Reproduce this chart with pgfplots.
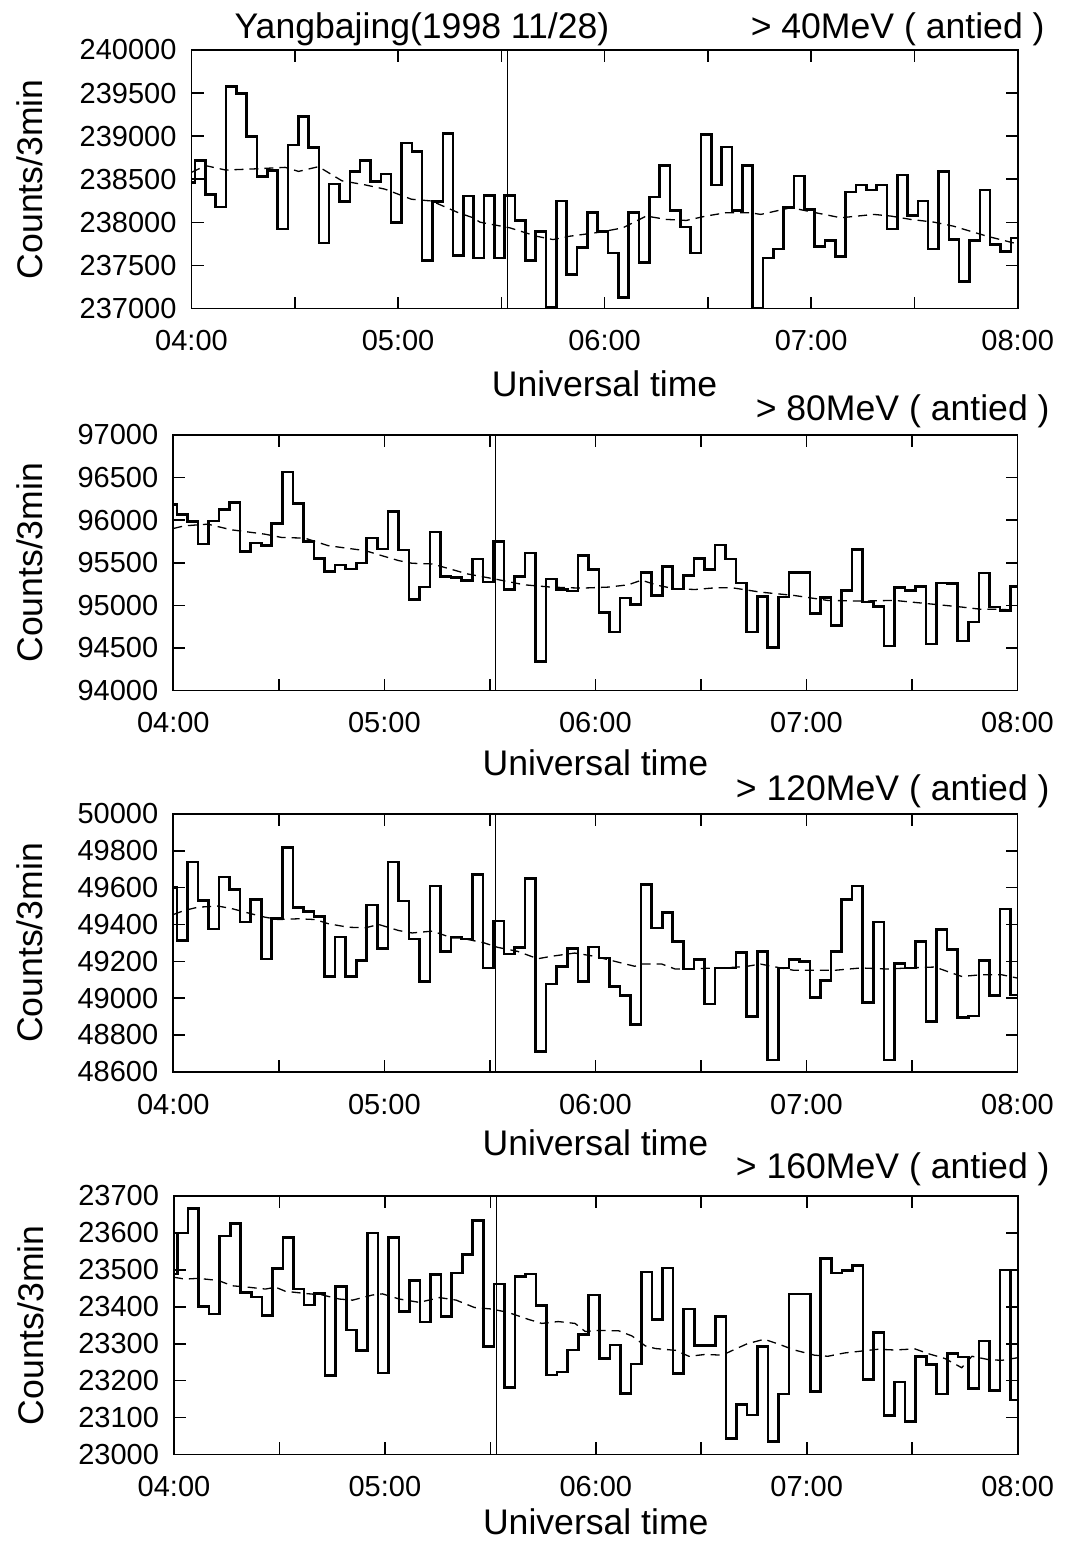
\documentclass[border=0pt]{standalone}
\usepackage{fontspec}
\setmainfont{Liberation Sans}
\usepackage{pgfplots}
\usepackage{pgfplotstable}
\pgfplotsset{compat=1.18}

% 3-minute counts (bin start in minutes after 04:00 UT, counts)
\pgfplotstableread{
t v
0 238460
1 238716
4 238326
7 238178
10 239574
13 239496
16 238997
19 238529
22 238599
25 237924
28 238899
31 239231
34 238868
37 237760
40 238443
43 238240
46 238591
49 238716
52 238474
55 238560
58 237995
61 238919
64 238825
67 237558
70 238240
73 239028
76 237612
79 238307
82 237585
85 238314
88 237585
91 238314
94 238022
97 237558
100 237897
103 237012
106 238248
109 237398
112 237710
115 238112
118 237897
121 237644
124 237125
127 238112
130 237534
133 238295
136 238658
139 238139
142 237944
145 237644
148 239020
151 238435
154 238872
157 238139
160 238658
163 237000
166 237585
169 237690
172 238170
175 238540
178 238150
181 237721
184 237788
187 237604
190 238353
193 238431
196 238373
199 238431
202 237924
205 238548
208 238080
211 238248
214 237690
217 238591
220 237800
223 237312
226 237788
229 238377
232 237741
235 237663
238 237819
240 237819
}\histA

\pgfplotstableread{
t v
0 96186
1 96069
4 95984
7 95719
10 95992
13 96128
16 96206
19 95630
22 95731
25 95700
28 95961
31 96564
34 96194
37 95751
40 95552
43 95397
46 95474
49 95428
52 95498
55 95789
58 95661
61 96101
64 95649
67 95070
70 95214
73 95863
76 95338
79 95330
82 95291
85 95544
88 95272
91 95751
94 95183
97 95338
100 95614
103 94338
106 95311
109 95183
112 95167
115 95583
118 95420
121 94914
124 94689
127 95085
130 95008
133 95389
136 95116
139 95455
142 95194
145 95350
148 95552
151 95420
154 95708
157 95544
160 95264
163 94689
166 95105
169 94502
172 95097
175 95389
178 95389
181 94902
184 95089
187 94766
190 95175
193 95653
196 95039
199 94988
202 94521
205 95206
208 95175
211 95221
214 94545
217 95264
220 95253
223 94580
226 94805
229 95381
232 94980
235 94941
238 95221
240 95221
}\histB

\pgfplotstableread{
t v
0 49600
1 49313
4 49740
7 49531
10 49376
13 49658
16 49591
19 49413
22 49536
25 49213
28 49431
31 49818
34 49491
37 49469
40 49445
43 49118
46 49333
49 49118
52 49205
55 49505
58 49269
61 49740
64 49527
67 49322
70 49091
73 49609
76 49254
79 49333
82 49322
85 49673
88 49164
91 49418
94 49240
97 49276
100 49651
103 48709
106 49076
109 49173
112 49269
115 49091
118 49278
121 49218
124 49064
127 49015
130 48858
133 49618
136 49382
139 49464
142 49309
145 49158
148 49209
151 48969
154 49164
157 49164
160 49249
163 48900
166 49254
169 48664
172 49164
175 49209
178 49200
181 49005
184 49096
187 49254
190 49536
193 49609
196 48978
199 49414
202 48664
205 49187
208 49164
211 49309
214 48873
217 49373
220 49264
223 48896
226 48904
229 49205
232 49015
235 49485
238 49018
240 49018
}\histC

\pgfplotstableread{
t v
0 23489
1 23600
4 23666
7 23400
10 23380
13 23592
16 23625
19 23439
22 23427
25 23377
28 23503
31 23587
34 23448
37 23405
40 23436
43 23214
46 23455
49 23337
52 23282
55 23600
58 23221
61 23587
64 23387
67 23471
70 23359
73 23487
76 23374
79 23491
82 23541
85 23633
88 23292
91 23462
94 23182
97 23482
100 23489
103 23403
106 23215
109 23223
112 23283
115 23325
118 23432
121 23260
124 23296
127 23166
130 23245
133 23494
136 23365
139 23505
142 23219
145 23394
148 23295
151 23295
154 23374
157 23044
160 23136
163 23107
166 23292
169 23036
172 23164
175 23435
178 23435
181 23171
184 23530
187 23491
190 23498
193 23512
196 23203
199 23330
202 23105
205 23196
208 23089
211 23266
214 23244
217 23164
220 23273
223 23264
226 23178
229 23307
232 23173
235 23500
238 23148
240 23148
}\histD

% smoothed trends
\pgfplotstableread{
t v
0 238580
4.1 238658
9.9 238607
17.6 238619
27.2 238638
31.1 238591
36.9 238646
43.7 238482
50.4 238435
56.2 238385
63.9 238268
69.7 238248
77.5 238112
81.8 238053
83.8 238002
92.5 237936
100.2 237839
105.0 237800
109.9 237839
118.5 237885
125.3 237936
132.1 238073
137.9 238034
143.7 238022
149.5 238073
155.3 238112
162.0 238112
165.4 238092
174.1 238170
178.9 238131
188.6 238053
198.2 238092
203.1 238073
208.9 238034
215.7 238002
221.4 237955
231.1 237839
238.8 237761
240 237750
}\trendA

\pgfplotstableread{
t v
0 95902
3.1 95933
7.0 95945
9.8 95953
16.5 95887
26.0 95836
30.8 95797
37.4 95789
44.1 95700
54.6 95642
59.3 95583
64.1 95525
67.9 95494
73.6 95486
79.3 95420
83.6 95369
91.2 95311
99.8 95241
107.4 95214
116.0 95202
123.6 95214
129.3 95241
133.1 95295
137.9 95233
142.7 95194
148.4 95186
154.1 95206
158.9 95206
166.95 95155
176.5 95116
186.0 95058
195.5 95050
205.0 95058
214.6 95019
224.1 94980
229.8 94953
235.5 94953
240 94941
}\trendB

\pgfplotstableread{
t v
0 49454
3.1 49476
7.0 49494
12.7 49500
16.5 49487
22.2 49458
26.0 49440
29.8 49427
35.5 49431
40.3 49427
44.1 49404
49.8 49385
54.6 49382
58.4 49400
64.1 49367
67.9 49354
73.6 49364
79.3 49327
81.7 49327
88.4 49300
92.2 49276
97.9 49254
103.6 49214
107.4 49227
114.1 49245
119.8 49227
125.5 49200
131.2 49173
133.1 49185
138.9 49185
142.7 49158
148.4 49160
154.1 49164
158.9 49167
163.1 49173
166.95 49185
172.7 49164
176.5 49151
182.2 49151
187.9 49151
195.5 49164
203.1 49158
208.9 49164
216.5 49169
224.1 49118
229.8 49127
235.5 49127
240 49109
}\trendC

\pgfplotstableread{
t v
0 23480
3.1 23475
7.0 23477
12.7 23471
16.5 23457
21.2 23453
26.0 23448
28.9 23453
31.7 23442
37.4 23436
42.2 23432
47.0 23421
50.8 23418
56.5 23432
59.3 23435
64.1 23421
69.8 23412
75.5 23425
80.3 23418
85.5 23398
90.3 23394
95.0 23385
100.8 23366
104.6 23355
109.3 23360
114.1 23355
117.0 23333
120.8 23336
126.5 23335
130.3 23321
134.1 23294
136.95 23287
142.7 23282
146.5 23266
151.2 23271
156.0 23269
158.9 23282
163.1 23300
167.9 23312
171.7 23300
176.5 23283
182.2 23269
186.0 23266
190.8 23275
195.5 23280
200.3 23285
205.0 23283
210.8 23286
214.6 23273
219.3 23260
224.1 23235
227.0 23266
231.7 23257
235.5 23255
240 23262
}\trendD

\pgfplotsset{
  panel/.style={
    scale only axis,
    anchor=north west,
    xmin=0, xmax=240,
    xtick={0,60,120,180,240},
    xticklabels={04:00,05:00,06:00,07:00,08:00},
    minor xtick={30,90,150,210},
    tick align=inside,
    major tick length=6pt,
    minor tick length=6pt,
    tick style={black, line width=0.8pt},
    axis line style={line width=0.9pt},
    scaled y ticks=false,
    yticklabel style={
      /pgf/number format/fixed,
      /pgf/number format/precision=0,
      /pgf/number format/1000 sep={},
      /pgf/number format/assume math mode=true,
      xshift=-4pt},
    tick label style={font=\fontsize{14.5}{16}\selectfont},
    label style={font=\fontsize{17.8}{20}\selectfont},
    xticklabel style={yshift=-7.5pt},
    xlabel={Universal time},
    ylabel={Counts/3min},
  },
  hist/.style={const plot, black, line width=1.3pt, no marks},
  trend/.style={black, line width=0.65pt, dash pattern=on 4.5pt off 3pt, no marks},
  onset/.style={black, line width=0.5pt, no marks},
}

\begin{document}
\begin{tikzpicture}
\path[use as bounding box] (0,0) rectangle (542pt,-771pt);

% >40 MeV
\begin{axis}[panel, at={(95.75pt,-25pt)}, width=413.1pt, height=129.25pt,
  ymin=237000, ymax=240000,
  ytick={237000,237500,238000,238500,239000,239500,240000},
  xlabel style={at={(axis description cs:0.5,-0.29)}, anchor=center},
  ylabel style={at={(axis description cs:-0.1955,0.5)}, anchor=center}]
  \addplot[onset] coordinates {(91.7,237000) (91.7,240000)};
  \addplot[trend] table[x=t, y=v] {\trendA};
  \addplot[hist] table[x=t, y=v] {\histA};
\end{axis}

% >80 MeV
\begin{axis}[panel, at={(86.65pt,-217.5pt)}, width=422.1pt, height=127.75pt,
  ymin=94000, ymax=97000,
  ytick={94000,94500,95000,95500,96000,96500,97000},
  xlabel style={at={(axis description cs:0.5,-0.284)}, anchor=center},
  ylabel style={at={(axis description cs:-0.170,0.5)}, anchor=center}]
  \addplot[onset] coordinates {(91.7,94000) (91.7,97000)};
  \addplot[trend] table[x=t, y=v] {\trendB};
  \addplot[hist] table[x=t, y=v] {\histB};
\end{axis}

% >120 MeV
\begin{axis}[panel, at={(86.65pt,-407pt)}, width=422.1pt, height=128.9pt,
  ymin=48600, ymax=50000,
  ytick={48600,48800,49000,49200,49400,49600,49800,50000},
  xlabel style={at={(axis description cs:0.5,-0.275)}, anchor=center},
  ylabel style={at={(axis description cs:-0.170,0.5)}, anchor=center}]
  \addplot[onset] coordinates {(91.7,48600) (91.7,50000)};
  \addplot[trend] table[x=t, y=v] {\trendC};
  \addplot[hist] table[x=t, y=v] {\histC};
\end{axis}

% >160 MeV
\begin{axis}[panel, at={(87pt,-598pt)}, width=421.8pt, height=129.25pt,
  ymin=23000, ymax=23700,
  ytick={23000,23100,23200,23300,23400,23500,23600,23700},
  xlabel style={at={(axis description cs:0.5,-0.262)}, anchor=center},
  ylabel style={at={(axis description cs:-0.170,0.5)}, anchor=center}]
  \addplot[onset] coordinates {(91.7,23000) (91.7,23700)};
  \addplot[trend] table[x=t, y=v] {\trendD};
  \addplot[hist] table[x=t, y=v] {\histD};
\end{axis}

\begin{scope}[every node/.style={font=\fontsize{17.8}{20}\selectfont, inner sep=0pt}]
  \node[anchor=base] at (211pt,-19.5pt) {Yangbajing(1998 11/28)};
  \node[anchor=base east] at (522.5pt,-19.5pt) {> 40MeV ( antied )};
  \node[anchor=base east] at (525pt,-210pt) {> 80MeV ( antied )};
  \node[anchor=base east] at (525pt,-400pt) {> 120MeV ( antied )};
  \node[anchor=base east] at (525pt,-589pt) {> 160MeV ( antied )};
\end{scope}
\end{tikzpicture}
\end{document}
